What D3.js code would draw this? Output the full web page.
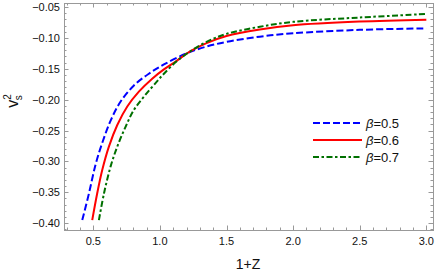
<!DOCTYPE html>
<html>
<head>
<meta charset="utf-8">
<script src="https://cdn.jsdelivr.net/npm/d3@7"></script>
<style>
  body { margin: 0; background: #fff; }
  text { font-family: "Liberation Sans", Arial, sans-serif; }
</style>
</head>
<body>
<svg width="436" height="275"></svg>
<script>
var xBlue = [0.417, 0.467, 0.517, 0.567, 0.63, 0.705, 0.805, 0.917, 1.03, 1.2, 1.35, 1.5, 1.75, 2.0, 2.5, 3.0];
var yBlue = [-0.395, -0.352, -0.305, -0.27, -0.234, -0.203, -0.177, -0.158, -0.143, -0.125, -0.114, -0.1065, -0.098, -0.0925, -0.087, -0.0845];

var xRed = [0.492, 0.529, 0.567, 0.617, 0.68, 0.755, 0.842, 0.942, 1.03, 1.12, 1.23, 1.35, 1.5, 1.75, 2.0, 2.5, 3.0];
var yRed = [-0.395, -0.352, -0.314, -0.276, -0.241, -0.211, -0.187, -0.166, -0.151, -0.138, -0.1215, -0.1085, -0.097, -0.0865, -0.0795, -0.0735, -0.0705];

var xGreen = [0.542, 0.58, 0.63, 0.68, 0.742, 0.805, 0.892, 0.98, 1.03, 1.13, 1.23, 1.35, 1.5, 1.75, 2.0, 2.5, 3.0];
var yGreen = [-0.395, -0.352, -0.308, -0.276, -0.244, -0.2165, -0.192, -0.17, -0.158, -0.137, -0.1215, -0.1065, -0.0935, -0.082, -0.074, -0.067, -0.0613];

var xTicks = [0.5, 1.0, 1.5, 2.0, 2.5, 3.0];
var yTicks = [-0.05, -0.10, -0.15, -0.20, -0.25, -0.30, -0.35, -0.40];
var labels = ["\u03b2=0.5", "\u03b2=0.6", "\u03b2=0.7"];

var svg = d3.select("svg");
var pLeft = 64, pRight = 433, pTop = 3, pBottom = 230;

var xScale = d3.scaleLinear().domain([0.28, 3.05]).range([pLeft, pRight]);
var yScale = d3.scaleLinear().domain([-0.411, -0.0435]).range([pBottom, pTop]);

var frameCol = "#999";

// frame
svg.append("rect")
  .attr("x", pLeft + 0.5).attr("y", pTop + 0.5)
  .attr("width", pRight - pLeft).attr("height", pBottom - pTop)
  .attr("fill", "none").attr("stroke", frameCol).attr("stroke-width", 1);

var xMinor = d3.range(3, 31).map(function(d) { return d / 10; });
var yMinor = d3.range(-41, -4).map(function(d) { return d / 100; });

function isMajor(v, list) {
  return list.some(function(t) { return Math.abs(t - v) < 1e-6; });
}

var ticks = svg.append("g").attr("stroke", frameCol).attr("stroke-width", 1);
xMinor.forEach(function(v) {
  var len = isMajor(v, xTicks) ? 4.5 : 2.5;
  var x = Math.round(xScale(v)) + 0.5;
  ticks.append("line").attr("x1", x).attr("x2", x).attr("y1", pBottom).attr("y2", pBottom - len);
  ticks.append("line").attr("x1", x).attr("x2", x).attr("y1", pTop).attr("y2", pTop + len);
});
yMinor.forEach(function(v) {
  var len = isMajor(v, yTicks) ? 4.5 : 2.5;
  var y = Math.round(yScale(v)) + 0.5;
  ticks.append("line").attr("x1", pLeft).attr("x2", pLeft + len).attr("y1", y).attr("y2", y);
  ticks.append("line").attr("x1", pRight).attr("x2", pRight - len).attr("y1", y).attr("y2", y);
});

// tick labels
svg.selectAll(".xl").data(xTicks).enter().append("text")
  .attr("x", function(d) { return xScale(d); })
  .attr("y", 245)
  .attr("text-anchor", "middle")
  .attr("font-size", "11px")
  .attr("fill", "#111")
  .text(function(d) { return d3.format(".1f")(d); });

svg.selectAll(".yl").data(yTicks).enter().append("text")
  .attr("x", 60)
  .attr("y", function(d) { return yScale(d) + 4; })
  .attr("text-anchor", "end")
  .attr("font-size", "11px")
  .attr("fill", "#111")
  .text(function(d) { return d3.format(".2f")(d).replace("-", "\u2212"); });

// axis titles
svg.append("text")
  .attr("x", 248).attr("y", 269)
  .attr("text-anchor", "middle")
  .attr("font-size", "14px")
  .attr("fill", "#111")
  .text("1+Z");

var yt = svg.append("text")
  .attr("transform", "translate(18,101) rotate(-90)")
  .attr("text-anchor", "middle")
  .attr("font-size", "16px")
  .attr("fill", "#111");
yt.append("tspan").text("v");
yt.append("tspan").attr("font-size", "10px").attr("dy", -7).text("2");
yt.append("tspan").attr("font-size", "10px").attr("dx", -6).attr("dy", 11).text("s");

// curves
var series = [
  { xs: xBlue, ys: yBlue, color: "#0000ff", dash: "7,3" },
  { xs: xRed, ys: yRed, color: "#ff0000", dash: null },
  { xs: xGreen, ys: yGreen, color: "#007000", dash: "6,2.5,2.5,2.5" }
];

var line = d3.line()
  .x(function(d) { return xScale(d[0]); })
  .y(function(d) { return yScale(d[1]); })
  .curve(d3.curveCatmullRom.alpha(0.5));

series.forEach(function(s) {
  var pts = s.xs.map(function(x, i) { return [x, s.ys[i]]; });
  svg.append("path")
    .datum(pts)
    .attr("d", line)
    .attr("fill", "none")
    .attr("stroke", s.color)
    .attr("stroke-width", 2)
    .attr("stroke-dasharray", s.dash);
});

// legend
var legend = svg.selectAll(".legend").data(series).enter().append("g")
  .attr("transform", function(d, i) { return "translate(313," + (123 + i * 17) + ")"; });

legend.append("line")
  .attr("x1", 0).attr("x2", 49).attr("y1", 0).attr("y2", 0)
  .attr("stroke", function(d) { return d.color; })
  .attr("stroke-width", 2)
  .attr("stroke-dasharray", function(d) { return d.dash; });

legend.append("text")
  .attr("x", 53).attr("y", 5)
  .attr("font-size", "13px")
  .attr("fill", "#111")
  .each(function(d, i) {
    var t = d3.select(this);
    t.append("tspan").attr("font-style", "italic").text("\u03b2");
    t.append("tspan").text(labels[i].slice(1));
  });
</script>
</body>
</html>
